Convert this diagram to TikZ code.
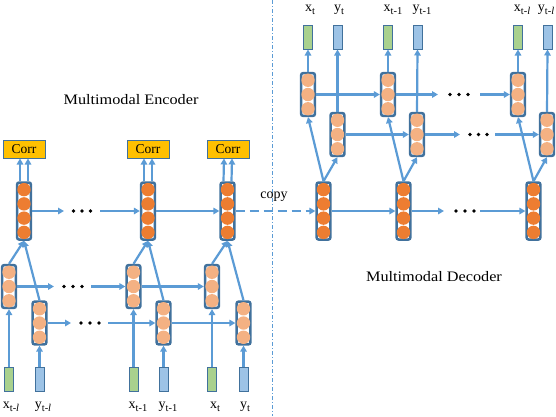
\documentclass[tikz,border=0pt]{standalone}
\usepackage{fontspec}
\usepackage{graphicx}
\setmainfont{Liberation Serif}
\usetikzlibrary{arrows.meta,calc}
\definecolor{lineblue}{HTML}{5B9BD5}
\definecolor{edgeblue}{HTML}{41719C}
\definecolor{darkorange}{HTML}{ED7D31}
\definecolor{lightorange}{HTML}{F4B183}
\definecolor{corrfill}{HTML}{FFC000}
\definecolor{xgreen}{HTML}{A9D18E}
\definecolor{yblue}{HTML}{9DC3E6}
\newcommand\subs[1]{\raisebox{-3pt}{\fontsize{10.5}{10.5}\selectfont #1}}
\newcommand\lstmcol[5]{%
  \node[colbox, minimum height={#4*14.25pt}] (#1) at (#2,#3) {};
  \foreach \k in {1,...,#4}
    \fill[#5] ($(#1.north)+(0,{(\k-0.5)*14.25+1.25})$) circle (6.7pt);
}
\tikzset{
  colbox/.style={draw=edgeblue, line width=2.5pt, fill=white, rounded corners=2pt,
    minimum width=13.8pt, inner sep=0pt},
  conn/.style={draw=lineblue, line width=2.2pt, -{Triangle[length=6pt,width=6.5pt]}},
  iobox/.style={draw=edgeblue, line width=1pt, minimum width=9pt, minimum height=24pt, inner sep=0pt},
  xbox/.style={iobox, fill=xgreen},
  ybox/.style={iobox, fill=yblue},
  corr/.style={draw=edgeblue, line width=1pt, fill=corrfill, minimum width=42pt,
    minimum height=18pt, inner sep=0pt, font=\fontsize{13.5}{13.5}\selectfont},
  lbl/.style={font=\fontsize{14}{14}\selectfont, inner sep=0pt},
  title/.style={font=\fontsize{14.5}{14.5}\selectfont, inner sep=0pt},
  dotn/.style={fill=black, circle, inner sep=0pt, minimum size=3.8pt},
  sep/.style={draw=lineblue, line width=0.8pt, dash pattern=on 4pt off 2pt on 1pt off 2pt}
}
\begin{document}
\begin{tikzpicture}[x=1pt,y=-1pt]
\useasboundingbox (0,0) rectangle (556,416);
% separator
\coordinate (sepT) at (272,0);
\coordinate (sepB) at (272,416);
\draw[sep] (sepT) -- (sepB);
% titles
\node[title] (enc) at (131,100) {\scalebox{1.12}[1]{Multimodal Encoder}};
\node[title] (dec) at (434,277) {\scalebox{1.12}[1]{Multimodal Decoder}};
% ---------------- Encoder ----------------
\lstmcol{E1}{24}{211}{4}{darkorange}
\lstmcol{E2}{148}{211}{4}{darkorange}
\lstmcol{E3}{227.5}{211}{4}{darkorange}
\lstmcol{A1}{9}{286.5}{3}{lightorange}
\lstmcol{A2}{133.5}{286.5}{3}{lightorange}
\lstmcol{A3}{212}{286.5}{3}{lightorange}
\lstmcol{B1}{39.5}{323}{3}{lightorange}
\lstmcol{B2}{163.5}{323}{3}{lightorange}
\lstmcol{B3}{243.5}{323}{3}{lightorange}
\node[corr] (C1) at (24,149) {Corr};
\node[corr] (C2) at (148,149) {Corr};
\node[corr] (C3) at (228,149) {Corr};
\node[xbox] (xi1) at (9,379.5) {};
\node[ybox] (yi1) at (39.5,379.5) {};
\node[xbox] (xi2) at (133.5,379.5) {};
\node[ybox] (yi2) at (163.5,379.5) {};
\node[xbox] (xi3) at (212,379.5) {};
\node[ybox] (yi3) at (243.5,379.5) {};
\node[lbl] (lxi1) at (11,407) {x\subs{t-\textit{l}}};
\node[lbl] (lyi1) at (43,407) {y\subs{t-\textit{l}}};
\node[lbl] (lxi2) at (138,407) {x\subs{t-1}};
\node[lbl] (lyi2) at (168,407) {y\subs{t-1}};
\node[lbl] (lxi3) at (215,407) {x\subs{t}};
\node[lbl] (lyi3) at (245,407) {y\subs{t}};
% Corr arrows
\foreach \c/\e in {C1/E1,C2/E2,C3/E3}{
  \draw[conn] ([xshift=-4pt]\e.north) -- ([xshift=-4pt]\c.south);
  \draw[conn] ([xshift=4pt]\e.north) -- ([xshift=4pt]\c.south);
}
% inputs
\foreach \i/\c in {xi1/A1,yi1/B1,xi2/A2,yi2/B2,xi3/A3,yi3/B3}
  \draw[conn] (\i.north) -- (\c.south);
% diagonals
\foreach \a/\b/\e in {A1/B1/E1,A2/B2/E2,A3/B3/E3}{
  \draw[conn] (\a.north) -- (\e.south);
  \draw[conn] (\b.north) -- (\e.south);
}
% horizontal, top layer
\coordinate (e1a) at (64,211);
\coordinate (e1b) at (100,211);
\draw[conn] (E1.east) -- (e1a);
\node[dotn] (ed1) at (73.5,211) {};
\node[dotn] (ed2) at (82,211) {};
\node[dotn] (ed3) at (90.5,211) {};
\draw[conn] (e1b) -- (E2.west);
\draw[conn] (E2.east) -- (E3.west);
% horizontal, layer A
\coordinate (a1a) at (54,286.5);
\coordinate (a1b) at (91,286.5);
\draw[conn] (A1.east) -- (a1a);
\node[dotn] (ad1) at (64,286.5) {};
\node[dotn] (ad2) at (73,286.5) {};
\node[dotn] (ad3) at (82,286.5) {};
\draw[conn] (a1b) -- (A2.west);
\draw[conn] (A2.east) -- (A3.west);
% horizontal, layer B
\coordinate (b1a) at (71,323);
\coordinate (b1b) at (108,323);
\draw[conn] (B1.east) -- (b1a);
\node[dotn] (bd1) at (81,323) {};
\node[dotn] (bd2) at (90,323) {};
\node[dotn] (bd3) at (99,323) {};
\draw[conn] (b1b) -- (B2.west);
\draw[conn] (B2.east) -- (B3.west);
% ---------------- Decoder ----------------
\lstmcol{D1}{323.5}{211}{4}{darkorange}
\lstmcol{D2}{403.5}{211}{4}{darkorange}
\lstmcol{D3}{533.5}{211}{4}{darkorange}
\lstmcol{P1}{308}{94.5}{3}{lightorange}
\lstmcol{P2}{388}{94.5}{3}{lightorange}
\lstmcol{P3}{518}{94.5}{3}{lightorange}
\lstmcol{Q1}{337.5}{134.5}{3}{lightorange}
\lstmcol{Q2}{417}{134.5}{3}{lightorange}
\lstmcol{Q3}{547}{134.5}{3}{lightorange}
\node[xbox] (xo1) at (308,37) {};
\node[ybox] (yo1) at (337.5,37) {};
\node[xbox] (xo2) at (388,37) {};
\node[ybox] (yo2) at (417.5,37) {};
\node[xbox] (xo3) at (518,37) {};
\node[ybox] (yo3) at (547.5,37) {};
\node[lbl] (lxo1) at (310,10) {x\subs{t}};
\node[lbl] (lyo1) at (339,10) {y\subs{t}};
\node[lbl] (lxo2) at (393,10) {x\subs{t-1}};
\node[lbl] (lyo2) at (422,10) {y\subs{t-1}};
\node[lbl] (lxo3) at (522,10) {x\subs{t-\textit{l}}};
\node[lbl] (lyo3) at (546,10) {y\subs{t-\textit{l}}};
% copy
\draw[conn, dash pattern=on 9pt off 5pt] (E3.east) -- (D1.west);
\node[lbl] (copy) at (274,197) {copy};
% outputs
\foreach \p/\o in {P1/xo1,Q1/yo1,P2/xo2,Q2/yo2,P3/xo3,Q3/yo3}
  \draw[conn] (\p.north) -- (\o.south);
% diagonals
\foreach \d/\p/\q in {D1/P1/Q1,D2/P2/Q2,D3/P3/Q3}{
  \draw[conn] (\d.north) -- (\p.south);
  \draw[conn] (\d.north) -- (\q.south);
}
% horizontal, big layer
\coordinate (d2a) at (444,211);
\coordinate (d2b) at (480,211);
\draw[conn] (D1.east) -- (D2.west);
\draw[conn] (D2.east) -- (d2a);
\node[dotn] (dd1) at (456,211) {};
\node[dotn] (dd2) at (465,211) {};
\node[dotn] (dd3) at (474,211) {};
\draw[conn] (d2b) -- (D3.west);
% horizontal, layer P
\coordinate (p2a) at (438,94.5);
\coordinate (p2b) at (480,94.5);
\draw[conn] (P1.east) -- (P2.west);
\draw[conn] (P2.east) -- (p2a);
\node[dotn] (pd1) at (450,94.5) {};
\node[dotn] (pd2) at (459,94.5) {};
\node[dotn] (pd3) at (468,94.5) {};
\draw[conn] (p2b) -- (P3.west);
% horizontal, layer Q
\coordinate (q2a) at (460,134.5);
\coordinate (q2b) at (495,134.5);
\draw[conn] (Q1.east) -- (Q2.west);
\draw[conn] (Q2.east) -- (q2a);
\node[dotn] (qd1) at (470,134.5) {};
\node[dotn] (qd2) at (478.5,134.5) {};
\node[dotn] (qd3) at (487,134.5) {};
\draw[conn] (q2b) -- (Q3.west);
\end{tikzpicture}
\end{document}
